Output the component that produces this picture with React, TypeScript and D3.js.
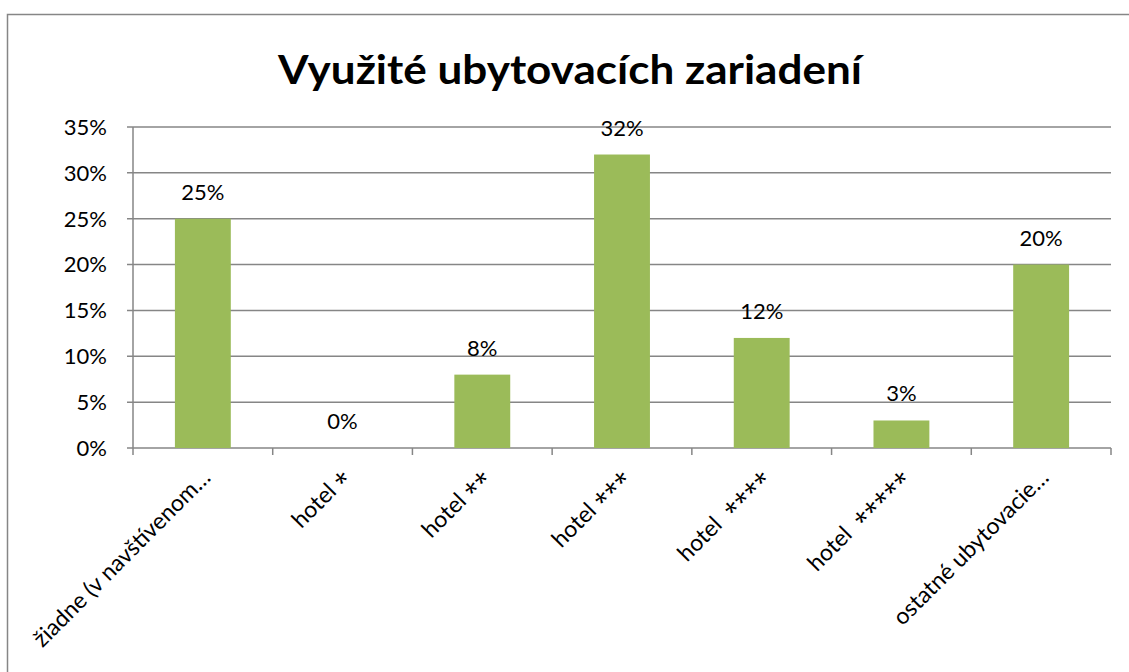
import React from "react";
import * as d3 from "d3";

const TITLE = "Využité ubytovacích zariadení";
const categories = [
  "žiadne (v navštívenom…",
  "hotel *",
  "hotel **",
  "hotel ***",
  "hotel  ****",
  "hotel  *****",
  "ostatné ubytovacie…",
];
const values = [0.25, 0, 0.08, 0.32, 0.12, 0.03, 0.2];
const yTicks = [0, 0.05, 0.1, 0.15, 0.2, 0.25, 0.3, 0.35];

const W = 1129;
const H = 672;
const plot = { left: 133, right: 1111, top: 127, bottom: 448 };
const FONT = "Lato, 'Open Sans', 'Liberation Sans', sans-serif";
const STAR_FONT = "'Open Sans', 'Noto Sans', sans-serif";
const GRID = "#868686";
const BAR = "#9BBB59";

function Label({ text }: { text: string }) {
  const m = text.match(/^([^*]*?)(\*+)$/);
  if (!m) return <>{text}</>;
  return (
    <>
      {m[1]}
      <tspan fontFamily={STAR_FONT} fontSize={25} dy={5}>
        {m[2]}
      </tspan>
    </>
  );
}

export default function App() {
  const x = d3
    .scaleBand<string>()
    .domain(categories)
    .range([plot.left, plot.right])
    .paddingInner(0.6)
    .paddingOuter(0.3);
  const xOuter = d3.scaleBand<string>().domain(categories).range([plot.left, plot.right]);
  const y = d3.scaleLinear().domain([0, 0.35]).range([plot.bottom, plot.top]);
  const pct = d3.format(".0%");
  const boundaries = d3.range(categories.length + 1).map(
    (i) => plot.left + i * xOuter.step()
  );

  return (
    <svg
      width={W}
      height={H}
      style={{ position: "absolute", left: 0, top: 0, background: "#fff" }}
      fontFamily={FONT}
    >
      <rect x={7.5} y={14.5} width={1200} height={800} fill="#fff" stroke={GRID} strokeWidth={1.5} />
      <text
        x={570}
        y={84}
        textAnchor="middle"
        fontSize={40}
        fontWeight="bold"
        textLength={584}
        lengthAdjust="spacingAndGlyphs"
        fill="#000"
      >
        {TITLE}
      </text>
      {yTicks.map((t) => (
        <g key={t}>
          <line
            x1={plot.left - 6}
            x2={plot.right}
            y1={y(t)}
            y2={y(t)}
            stroke={GRID}
            strokeWidth={1.5}
          />
          <text x={107} y={y(t)} dy="0.36em" textAnchor="end" fontSize={22} fill="#000">
            {pct(t)}
          </text>
        </g>
      ))}
      <line x1={plot.left} x2={plot.left} y1={plot.top} y2={plot.bottom} stroke={GRID} strokeWidth={1.5} />
      {boundaries.map((bx, i) => (
        <line key={i} x1={bx} x2={bx} y1={plot.bottom} y2={plot.bottom + 7} stroke={GRID} strokeWidth={1.5} />
      ))}
      {categories.map((c, i) => {
        const v = values[i];
        const cx = (xOuter(c) as number) + xOuter.bandwidth() / 2;
        return (
          <g key={c}>
            {v > 0 && (
              <rect
                x={x(c)}
                y={y(v)}
                width={x.bandwidth()}
                height={plot.bottom - y(v)}
                fill={BAR}
              />
            )}
            <text x={cx} y={y(v) - 19} textAnchor="middle" fontSize={22} fill="#000">
              {pct(v)}
            </text>
            <text
              transform={`translate(${cx + 9},${plot.bottom + 31}) rotate(-45)`}
              textAnchor="end"
              fontSize={23}
              fill="#000"
              style={{ whiteSpace: "pre" }}
            >
              <Label text={c} />
            </text>
          </g>
        );
      })}
    </svg>
  );
}
